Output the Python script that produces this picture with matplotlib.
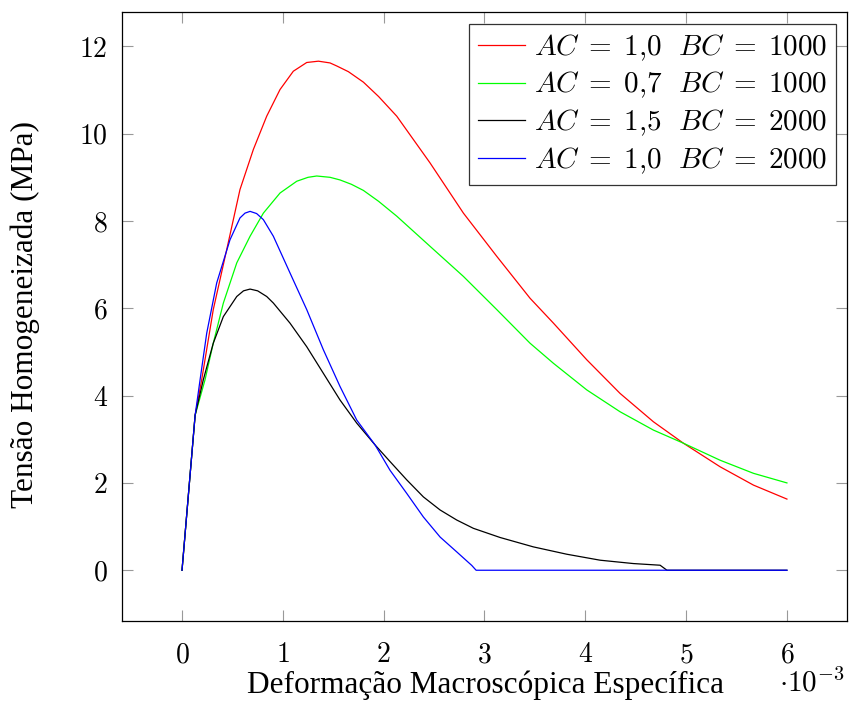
import numpy as np
import matplotlib
matplotlib.use("Agg")
import matplotlib.pyplot as plt

plt.rcParams['font.family'] = 'serif'
plt.rcParams['font.serif'] = ['cmr10']
plt.rcParams['mathtext.fontset'] = 'cm'
plt.rcParams['axes.formatter.use_mathtext'] = True

# deformacao (x 10^-3) e tensao (MPa)
x_red = [0, 0.13, 0.195, 0.31, 0.443, 0.575, 0.708, 0.84, 0.972, 1.104, 1.237, 1.353,
         1.468, 1.535, 1.65, 1.799, 1.95, 2.13, 2.46, 2.791, 3.122, 3.452, 3.684, 4.015,
         4.345, 4.676, 4.973, 5.337, 5.668, 6.0]
y_red = [0, 3.55, 4.36, 5.97, 7.34, 8.72, 9.64, 10.4, 11.01, 11.43, 11.63, 11.66,
         11.62, 11.55, 11.42, 11.18, 10.85, 10.4, 9.33, 8.18, 7.19, 6.23, 5.66, 4.82,
         4.05, 3.4, 2.91, 2.37, 1.95, 1.63]

x_green = [0, 0.13, 0.228, 0.31, 0.41, 0.543, 0.675, 0.807, 0.972, 1.138, 1.25, 1.336,
           1.468, 1.567, 1.68, 1.799, 1.95, 2.13, 2.46, 2.791, 3.122, 3.452, 3.684,
           4.015, 4.345, 4.676, 4.973, 5.337, 5.668, 6.0]
y_green = [0, 3.55, 4.36, 5.2, 6.12, 7.04, 7.65, 8.18, 8.64, 8.91, 9.0, 9.03,
           9.0, 8.94, 8.84, 8.7, 8.45, 8.11, 7.42, 6.73, 5.97, 5.2, 4.74,
           4.13, 3.63, 3.21, 2.91, 2.52, 2.22, 2.0]

x_black = [0, 0.13, 0.211, 0.31, 0.41, 0.543, 0.61, 0.675, 0.75, 0.84, 0.906, 1.071,
           1.237, 1.402, 1.567, 1.733, 1.915, 2.063, 2.229, 2.394, 2.56, 2.725, 2.89,
           3.155, 3.485, 3.816, 4.147, 4.477, 4.742, 4.81, 6.0]
y_black = [0, 3.55, 4.36, 5.2, 5.81, 6.27, 6.4, 6.44, 6.4, 6.27, 6.12, 5.66,
           5.12, 4.51, 3.9, 3.37, 2.87, 2.49, 2.07, 1.68, 1.38, 1.15, 0.96,
           0.75, 0.535, 0.367, 0.23, 0.153, 0.115, 0, 0]

x_blue = [0, 0.13, 0.179, 0.245, 0.344, 0.476, 0.575, 0.625, 0.675, 0.74, 0.807, 0.906,
          1.071, 1.237, 1.402, 1.567, 1.733, 1.915, 2.063, 2.229, 2.394, 2.56, 2.725,
          2.874, 2.917, 6.0]
y_blue = [0, 3.55, 4.36, 5.43, 6.58, 7.57, 8.07, 8.18, 8.22, 8.17, 8.03, 7.65,
          6.81, 5.97, 5.05, 4.21, 3.44, 2.87, 2.29, 1.76, 1.22, 0.76, 0.42,
          0.11, 0, 0]

labels = [r'$AC\;=\;1{,}0\ \ BC\;=\;1000$',
          r'$AC\;=\;0{,}7\ \ BC\;=\;1000$',
          r'$AC\;=\;1{,}5\ \ BC\;=\;2000$',
          r'$AC\;=\;1{,}0\ \ BC\;=\;2000$']
colors = ['#ff0000', '#00ff00', '#000000', '#0000ff']

fig = plt.figure(figsize=(8.51, 7.01), dpi=100)
ax = fig.add_axes([0.1428, 0.1141, 0.853, 0.869])

series = [(x_red, y_red), (x_green, y_green), (x_black, y_black), (x_blue, y_blue)]
for (xs, ys), c, lab in zip(series, colors, labels):
    ax.plot(xs, ys, color=c, lw=0.9, label=lab)

ax.set_xlim(-0.6, 6.6)
ax.set_ylim(-1.163, 12.79)
ax.set_xticks(range(0, 7))
ax.set_yticks(range(0, 13, 2))
ax.tick_params(direction='in', length=8, width=0.8, color='#999999',
               top=True, right=True, labelsize=20)
ax.tick_params(axis='x', pad=15)
ax.tick_params(axis='y', pad=10)
for s in ax.spines.values():
    s.set_linewidth(0.9)

lab_font = ['Liberation Serif', 'DejaVu Serif']
fig.text(0.030, 1 - 315 / 701, 'Tensão Homogeneizada (MPa)', fontsize=22.5,
         family=lab_font, rotation=90, ha='center', va='center')
fig.text(0.570, 0.012, 'Deformação Macroscópica Específica', fontsize=22.5,
         family=lab_font, ha='center', va='baseline')
fig.text(0.993, 0.014, r'$\cdot 10^{-3}$', fontsize=21, ha='right', va='baseline')

leg = ax.legend(loc='upper right', fontsize=21, frameon=True, fancybox=False,
                handlelength=1.6, handletextpad=0.3, borderpad=0.3,
                labelspacing=0.25, borderaxespad=0.4)
leg.get_frame().set_edgecolor('black')
leg.get_frame().set_linewidth(0.9)

fig.savefig('out.png', dpi=100)
